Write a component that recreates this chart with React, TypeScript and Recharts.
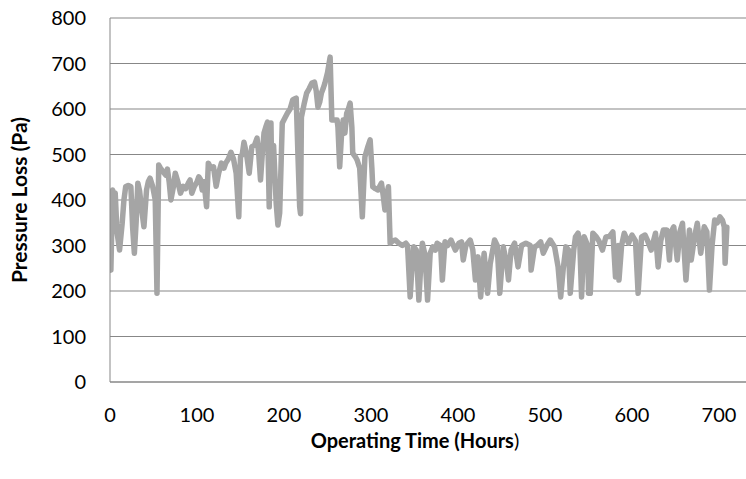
import React from "react"
import { LineChart, Line, XAxis, YAxis, CartesianGrid, Label } from "recharts"

// operating time (hours) and pressure loss (Pa)
const hours = [
  0, 1, 3, 5, 6, 8, 11, 14, 16, 18, 21, 24, 26, 28, 30, 32, 34, 36, 39, 42, 44, 46, 49, 52, 54, 56, 58, 61, 64, 66, 68, 70, 73, 75, 78, 81, 84, 87, 90, 92, 94, 97, 100,
  102, 104, 106, 108, 111, 113, 116, 119, 122, 125, 128, 131, 133, 136, 139, 142, 145, 148, 150, 152, 154, 157, 160, 163, 166, 169, 171, 173, 175, 177, 179, 181, 183, 185, 186, 188, 191, 193, 195, 198,
  201, 204, 207, 210, 212, 214, 216, 218, 219, 220, 223, 226, 229, 232, 235, 237, 239, 241, 243, 245, 247, 250, 253, 255, 258, 261, 262, 264, 266, 268, 270, 272, 274, 276, 278, 279, 282, 284, 287, 290, 293, 296, 299, 301, 302, 305, 308,
  310, 312, 314, 316, 318, 320, 322, 325, 328, 332, 336, 340, 342, 345, 347, 349, 352, 355, 357, 359, 362, 365, 368, 371,
  374, 376, 380, 382, 385, 388, 392, 397, 401, 404, 406, 409, 414, 417, 420, 423, 426, 430, 434, 437, 442, 445, 448, 452, 456, 458,
  461, 465, 469, 473, 478, 483, 484, 488, 491, 495, 498, 502, 506, 511, 515, 518, 521, 524, 527, 529, 533, 535, 538, 540, 542, 545, 549, 550,
  552, 555, 559, 562, 566, 570, 574, 578, 581, 584, 585, 588, 591, 596, 600, 604, 607, 611, 615, 618, 622, 627, 630, 633, 636, 640, 643, 645,
  648, 652, 655, 658, 662, 666, 668, 672, 675, 679, 683, 686, 689, 692, 695, 698, 701, 704, 706, 707, 709,
]
const pressure = [
  250, 246, 422, 410, 415, 330, 290, 349, 400, 429, 432, 429, 340, 283, 350, 437, 420, 385, 341, 422, 440, 448, 430, 400, 195, 477, 470, 462, 455, 468, 440, 400, 430, 459, 440, 415, 430, 425, 437, 444, 415, 430, 440,
  451, 445, 422, 440, 385, 481, 470, 473, 430, 460, 481, 470, 481, 490, 505, 490, 459, 363, 495, 500, 527, 500, 459, 517, 520, 536, 500, 444, 500, 547, 560, 571, 385, 569, 444, 520, 393, 345, 371, 569,
  580, 591, 600, 620, 622, 624, 500, 385, 370, 582, 610, 635, 645, 657, 659, 640, 604, 615, 635, 645, 657, 680, 714, 576, 576, 576, 560, 473, 540, 576, 547, 590, 600, 613, 560, 503, 495, 488, 470, 363, 495, 515, 532, 470, 429, 425, 422,
  430, 437, 410, 378, 410, 429, 305, 310, 312, 305, 300, 305, 300, 187, 250, 297, 290, 180, 250, 305, 280, 180, 283, 297,
  290, 305, 300, 224, 308, 300, 312, 290, 305, 308, 268, 300, 312, 290, 224, 275, 187, 283, 195, 260, 312, 300, 195, 297, 260, 224,
  290, 305, 253, 300, 305, 300, 246, 297, 300, 308, 283, 300, 312, 297, 253, 187, 250, 297, 290, 195, 290, 319, 327, 305, 187, 319, 300, 195,
  195, 327, 319, 310, 290, 319, 320, 330, 231, 300, 224, 300, 327, 305, 323, 310, 195, 319, 323, 310, 290, 327, 253, 310, 334, 334, 268, 330,
  341, 268, 330, 349, 224, 334, 268, 320, 349, 283, 341, 330, 202, 300, 356, 350, 363, 355, 341, 261, 340,
]
const xTicks = [0, 100, 200, 300, 400, 500, 600, 700]
const yTicks = [0, 100, 200, 300, 400, 500, 600, 700, 800]

const data = hours.map((h, i) => ({ h, p: pressure[i] }))

const font = "Lato, 'Open Sans', sans-serif"
const gridColor = "#878787"

export default function App() {
  return (
    <div>
      <style>{"body{margin:0}"}</style>
      <LineChart
        width={746}
        height={479}
        data={data}
        margin={{ top: 18, right: 0, bottom: 67, left: 0 }}
        style={{ fontFamily: font }}
      >
        <CartesianGrid vertical={false} stroke={gridColor} strokeWidth={1} />
        <XAxis
          type="number"
          dataKey="h"
          domain={[0, 731]}
          ticks={xTicks}
          allowDataOverflow
          tickLine={false}
          axisLine={{ stroke: gridColor }}
          tickMargin={20}
          tick={{ fill: "#000", fontSize: 20 }}
          height={30}
        >
          <Label
            content={() => (
              <text x={415} y={448} textAnchor="middle" fontSize={20} fontWeight="bold" fill="#000">
                Operating Time (Hours<tspan fontWeight="normal">)</tspan>
              </text>
            )}
          />
        </XAxis>
        <YAxis
          domain={[0, 800]}
          ticks={yTicks}
          width={110}
          tickLine={false}
          axisLine={{ stroke: gridColor }}
          tickMargin={18}
          tick={{ fill: "#000", fontSize: 20 }}
        >
          <Label
            content={() => (
              <text
                x={27}
                y={200}
                textAnchor="middle"
                fontSize={21}
                fontWeight="bold"
                fill="#000"
                transform="rotate(-90 27 200)"
              >
                Pressure Loss (Pa)
              </text>
            )}
          />
        </YAxis>
        <Line
          type="linear"
          dataKey="p"
          stroke="#a5a5a5"
          strokeWidth={5.5}
          strokeLinejoin="round"
          strokeLinecap="round"
          dot={false}
          activeDot={false}
          isAnimationActive={false}
        />
      </LineChart>
    </div>
  )
}
